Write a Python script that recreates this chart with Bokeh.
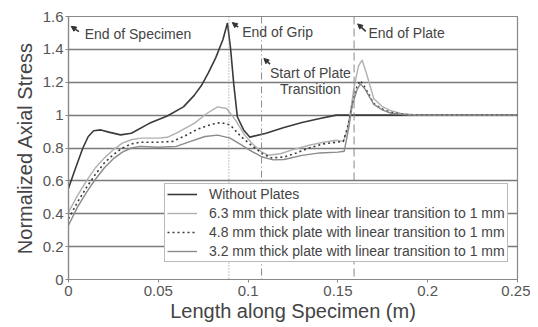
from bokeh.plotting import figure
from bokeh.models import (FixedTicker, Span, Legend, LegendItem, Arrow, NormalHead,
                          ColumnDataSource, Range1d)
from bokeh.core.properties import value
from bokeh.embed import file_html
from bokeh.resources import INLINE

# ---------------- data ----------------
x_noplate = [0, 0.004, 0.008, 0.011, 0.014, 0.018, 0.023, 0.029, 0.035, 0.045, 0.055, 0.064,
             0.070, 0.074, 0.078, 0.082, 0.086, 0.0885, 0.0902, 0.092, 0.094, 0.0975, 0.101,
             0.110, 0.120, 0.130, 0.140, 0.149, 0.160, 0.250]
y_noplate = [0.555, 0.68, 0.80, 0.87, 0.905, 0.91, 0.895, 0.88, 0.89, 0.95, 0.995, 1.05,
             1.12, 1.18, 1.26, 1.35, 1.46, 1.56, 1.41, 1.19, 0.99, 0.91, 0.866,
             0.89, 0.925, 0.955, 0.98, 1.0, 1.0, 1.0]

x_63 = [0, 0.005, 0.010, 0.015, 0.020, 0.025, 0.030, 0.035, 0.040, 0.050, 0.055, 0.060, 0.070,
        0.077, 0.083, 0.088, 0.093, 0.098, 0.102, 0.107, 0.111, 0.118, 0.125, 0.134, 0.142,
        0.149, 0.153, 0.155, 0.157, 0.159, 0.1615, 0.1635, 0.166, 0.170, 0.175, 0.180, 0.185,
        0.195, 0.250]
y_63 = [0.41, 0.51, 0.60, 0.68, 0.74, 0.79, 0.83, 0.85, 0.86, 0.86, 0.865, 0.89, 0.95,
        1.01, 1.05, 1.04, 0.97, 0.88, 0.83, 0.78, 0.756, 0.765, 0.79, 0.817, 0.835,
        0.847, 0.84, 0.90, 1.02, 1.17, 1.30, 1.335, 1.25, 1.10, 1.05, 1.025, 1.01,
        1.0, 1.0]

x_48 = [0, 0.005, 0.010, 0.015, 0.020, 0.025, 0.030, 0.035, 0.040, 0.050, 0.058, 0.065, 0.072,
        0.080, 0.085, 0.090, 0.096, 0.102, 0.108, 0.113, 0.120, 0.127, 0.134, 0.142, 0.149,
        0.153, 0.156, 0.158, 0.1605, 0.1625, 0.165, 0.170, 0.175, 0.180, 0.190, 0.250]
y_48 = [0.37, 0.47, 0.56, 0.64, 0.71, 0.76, 0.80, 0.825, 0.835, 0.835, 0.84, 0.875, 0.915,
        0.945, 0.955, 0.94, 0.87, 0.815, 0.765, 0.74, 0.745, 0.77, 0.80, 0.825, 0.835,
        0.84, 0.95, 1.07, 1.17, 1.21, 1.17, 1.07, 1.035, 1.015, 1.0, 1.0]

x_32 = [0, 0.005, 0.010, 0.015, 0.020, 0.025, 0.030, 0.035, 0.040, 0.050, 0.060, 0.068, 0.076,
        0.083, 0.090, 0.096, 0.102, 0.108, 0.114, 0.120, 0.130, 0.140, 0.150, 0.1535, 0.156,
        0.158, 0.1605, 0.1625, 0.165, 0.170, 0.175, 0.180, 0.190, 0.250]
y_32 = [0.33, 0.44, 0.53, 0.61, 0.68, 0.735, 0.775, 0.80, 0.81, 0.805, 0.81, 0.84, 0.87,
        0.878, 0.86, 0.82, 0.78, 0.745, 0.728, 0.73, 0.755, 0.77, 0.775, 0.78, 0.92,
        1.06, 1.15, 1.19, 1.16, 1.065, 1.03, 1.01, 1.0, 1.0]

series_labels = ["Without Plates",
                 "6.3 mm thick plate with linear transition to 1 mm",
                 "4.8 mm thick plate with linear transition to 1 mm",
                 "3.2 mm thick plate with linear transition to 1 mm"]

x_ticks = [0, 0.05, 0.1, 0.15, 0.2, 0.25]
x_tick_labels = ["0", "0.05", "0.1", "0.15", "0.2", "0.25"]
y_ticks = [0, 0.2, 0.4, 0.6, 0.8, 1.0, 1.2, 1.4, 1.6]
y_tick_labels = ["0", "0.2", "0.4", "0.6", "0.8", "1", "1.2", "1.4", "1.6"]

# reference locations (m)
marker_x = [0.0893, 0.1075, 0.159]

# annotations: text, text x, text y, arrow tip x, tip y, tail x, tail y
ann_text = ["End of Specimen", "End of Grip", "Start of Plate", "Transition", "End of Plate"]
ann_x = [0.0090, 0.0967, 0.1347, 0.1347, 0.1670]
ann_y = [1.492, 1.505, 1.258, 1.157, 1.498]
ann_align = ["left", "left", "center", "center", "left"]
arrow_tip_x = [0.0015, 0.0912, 0.1088, 0.1610]
arrow_tip_y = [1.540, 1.563, 1.345, 1.555]
arrow_tail_x = [0.0058, 0.0945, 0.1122, 0.1655]
arrow_tail_y = [1.508, 1.535, 1.310, 1.510]

FONT = "Liberation Sans"

p = figure(width=530, height=327, output_backend="svg", toolbar_location=None,
           x_range=Range1d(0, 0.25), y_range=Range1d(0, 1.6),
           min_border_left=68, min_border_right=13, min_border_top=16, min_border_bottom=48)
p.background_fill_color = "white"
p.border_fill_color = "white"
p.outline_line_color = "#888888"
p.outline_line_width = 1.2

# grid
p.xgrid.grid_line_color = None
p.ygrid.ticker = FixedTicker(ticks=y_ticks)
p.ygrid.grid_line_color = "#7a7a7a"
p.ygrid.grid_line_width = 1.3

# axes
for ax in (p.xaxis[0], p.yaxis[0]):
    ax.axis_line_color = "#888888"
    ax.axis_line_width = 1.2
    ax.major_tick_line_color = "#888888"
    ax.major_tick_out = 3
    ax.major_tick_in = 0
    ax.minor_tick_line_color = None
    ax.major_label_text_font = FONT
    ax.major_label_text_font_size = "15px"
    ax.major_label_text_color = "#555555"
    ax.axis_label_text_font = FONT
    ax.axis_label_text_font_size = "20px"
    ax.axis_label_text_font_style = "normal"
    ax.axis_label_text_color = "#444444"

p.xaxis.ticker = FixedTicker(ticks=x_ticks)
p.xaxis.major_label_overrides = {t: l for t, l in zip(x_ticks, x_tick_labels)}
p.yaxis.ticker = FixedTicker(ticks=y_ticks)
p.yaxis.major_label_overrides = {t: l for t, l in zip(y_ticks, y_tick_labels)}
p.xaxis.axis_label = "Length along Specimen (m)"
p.yaxis.axis_label = "Normalized Axial Stress"
p.xaxis.major_label_standoff = 3
p.xaxis.axis_label_standoff = 1
p.yaxis.major_label_standoff = 2
p.yaxis.axis_label_standoff = 4

# reference lines
dashes = ["1 2", "7 3 1 3", "8 4"]
for xv, d in zip(marker_x, dashes):
    p.add_layout(Span(location=xv, dimension="height", line_color="#888888",
                      line_width=1, line_dash=d))

# curves
r0 = p.line(x_noplate, y_noplate, line_color="#3a3a3a", line_width=1.6)
r1 = p.line(x_63, y_63, line_color="#b0b0b0", line_width=1.4)
r2 = p.line(x_48, y_48, line_color="#3a3a3a", line_width=1.6, line_dash="2 3")
r3 = p.line(x_32, y_32, line_color="#8a8a8a", line_width=1.4)

# annotations
src = ColumnDataSource(dict(x=ann_x, y=ann_y, text=ann_text, align=ann_align))
p.text(x="x", y="y", text="text", source=src, text_align="align", text_baseline="middle",
       text_font=value(FONT), text_font_size="14px", text_color="#444444")
for tx, ty, sx, sy in zip(arrow_tip_x, arrow_tip_y, arrow_tail_x, arrow_tail_y):
    p.add_layout(Arrow(x_start=sx, y_start=sy, x_end=tx, y_end=ty,
                       line_color="#333333", line_width=1.6,
                       end=NormalHead(size=5, fill_color="#333333", line_color="#333333")))

legend = Legend(items=[LegendItem(label=l, renderers=[r]) for l, r in
                       zip(series_labels, [r0, r1, r2, r3])],
                location=(96, 17))
legend.label_text_font = FONT
legend.label_text_font_size = "14px"
legend.label_text_color = "#444444"
legend.border_line_color = "#777777"
legend.border_line_width = 1
legend.background_fill_alpha = 1
legend.padding = 2
legend.spacing = 3
legend.label_height = 14
legend.glyph_height = 14
legend.glyph_width = 30
legend.label_standoff = 12
legend.margin = 0
p.add_layout(legend)

open("out.html", "w").write(file_html(p, INLINE))
